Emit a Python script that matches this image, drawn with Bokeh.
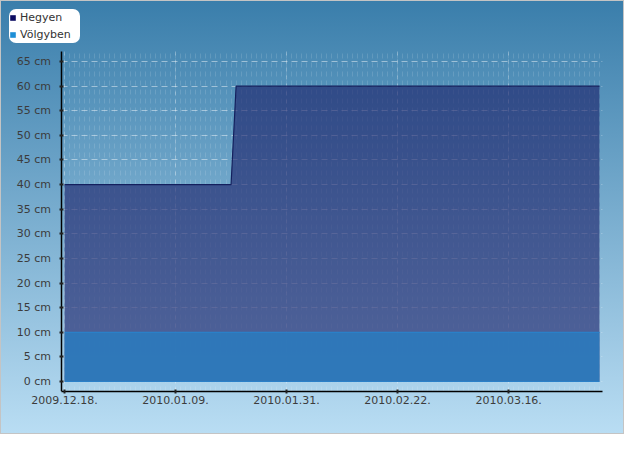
from datetime import datetime
from bokeh.plotting import figure
from bokeh.models import (Range1d, FixedTicker, DatetimeTickFormatter, CustomJSTickFormatter,
                          Legend, LegendItem, ColumnDataSource)
from bokeh.embed import file_html
from bokeh.resources import INLINE

# ---- data ----
series_names = ["Hegyen", "Völgyben"]
hegyen_dates = ["2009-12-18", "2010-01-20", "2010-01-21", "2010-04-03"]
hegyen_cm = [40, 40, 60, 60]
volgyben_dates = ["2009-12-18", "2010-04-03"]
volgyben_cm = [10, 10]
x_tick_dates = ["2009-12-18", "2010-01-09", "2010-01-31", "2010-02-22", "2010-03-16"]
y_ticks = [0, 5, 10, 15, 20, 25, 30, 35, 40, 45, 50, 55, 60, 65]

def ms(s):
    return datetime.strptime(s, "%Y-%m-%d").timestamp() * 1000.0

DAY = 86400000.0

h_src = ColumnDataSource(dict(x=[ms(d) for d in hegyen_dates], y=hegyen_cm, y0=[0]*len(hegyen_cm)))
v_src = ColumnDataSource(dict(x=[ms(d) for d in volgyben_dates], y=volgyben_cm, y0=[0]*len(volgyben_cm)))

# axis extents (data units)
x0 = ms(hegyen_dates[0]) - 0.6 * DAY
x1 = x0 + 107.2 * DAY
y0, y1 = -2.03, 67.03
# frame extends beyond the axes so that the legend can sit in the top-left corner
xL = x0 - 10.7 * DAY
yT = 75.97

p = figure(width=624, height=434, output_backend="svg", toolbar_location=None,
           x_axis_type="datetime",
           x_range=Range1d(xL, x1), y_range=Range1d(y0, yT),
           min_border_left=6, min_border_right=23, min_border_top=6, min_border_bottom=44)

p.background_fill_color = None
p.border_fill_color = None
p.outline_line_color = None
p.styles = {"background": "linear-gradient(to bottom, #3a7eab 0%, #b9ddf3 100%)",
            "border": "1px solid #c4c4c4", "box-sizing": "border-box"}

# areas
hr = p.varea(x="x", y1="y0", y2="y", source=h_src, fill_color="#1c2169", fill_alpha=0.62)
p.line(x="x", y="y", source=h_src, line_color="#14205e", line_width=1.2)
vr = p.varea(x="x", y1="y0", y2="y", source=v_src, fill_color="#2c79bc", fill_alpha=0.92)
p.line(x="x", y="y", source=v_src, line_color="#2a80c8", line_width=1.2)
p.line(x="x", y="y0", source=v_src, line_color="#2a80c8", line_width=1.2)

# legend swatches: zero-size quads at each series' first point (invisible in the plot)
lh = p.quad(left=[ms(hegyen_dates[0])], right=[ms(hegyen_dates[0])],
            top=[hegyen_cm[0]], bottom=[hegyen_cm[0]], fill_color="#0c0c62", line_color=None)
lv = p.quad(left=[ms(volgyben_dates[0])], right=[ms(volgyben_dates[0])],
            top=[volgyben_cm[0]], bottom=[volgyben_cm[0]], fill_color="#1e8fd6", line_color=None)

legend = Legend(items=[LegendItem(label=series_names[0], renderers=[lh]),
                       LegendItem(label=series_names[1], renderers=[lv])],
                location=(2, 348), orientation="vertical",
                background_fill_color="white", background_fill_alpha=1.0,
                border_line_color=None, border_radius=7,
                label_text_font="DejaVu Sans", label_text_font_size="11px",
                label_text_color="#333333", glyph_width=7, glyph_height=7,
                label_standoff=4, spacing=0, padding=5, margin=0,
                label_height=17, label_width=60)
p.add_layout(legend, "center")

# axes
p.xaxis.ticker = FixedTicker(ticks=[ms(d) for d in x_tick_dates],
                             minor_ticks=[ms(hegyen_dates[0]) + i * DAY for i in range(0, 107)])
p.xaxis.formatter = DatetimeTickFormatter(days="%Y.%m.%d.", months="%Y.%m.%d.", years="%Y.%m.%d.")
p.xaxis.bounds = (x0, x1)
p.yaxis.ticker = FixedTicker(ticks=y_ticks)
p.yaxis.formatter = CustomJSTickFormatter(code="return tick + '  cm';")
p.yaxis.bounds = (y0, y1)
p.yaxis.fixed_location = x0

for ax in (p.xaxis[0], p.yaxis[0]):
    ax.axis_line_color = "black"
    ax.axis_line_width = 1.5
    ax.major_tick_line_color = "#222222"
    ax.major_tick_line_width = 2
    ax.major_tick_in = 2
    ax.major_tick_out = 2
    ax.minor_tick_line_color = None
    ax.major_label_text_font = "DejaVu Sans"
    ax.major_label_text_font_size = "11px"
    ax.major_label_text_color = "#3c3c3c"
p.yaxis.major_label_standoff = 5
p.xaxis.major_label_standoff = 0

# grids
p.xgrid.cross_bounds = (y0, y1)
p.xgrid.grid_line_color = "white"
p.xgrid.grid_line_alpha = 0.3
p.xgrid.grid_line_dash = "4 4"
p.xgrid.minor_grid_line_color = "white"
p.xgrid.minor_grid_line_alpha = 0.13
p.xgrid.minor_grid_line_dash = "5 4"
p.ygrid.cross_bounds = (x0, x1)
p.ygrid.grid_line_color = "white"
p.ygrid.grid_line_alpha = 0.45
p.ygrid.grid_line_dash = "6 4"
p.ygrid.minor_grid_line_color = None

open("out.html", "w").write(file_html(p, INLINE))
